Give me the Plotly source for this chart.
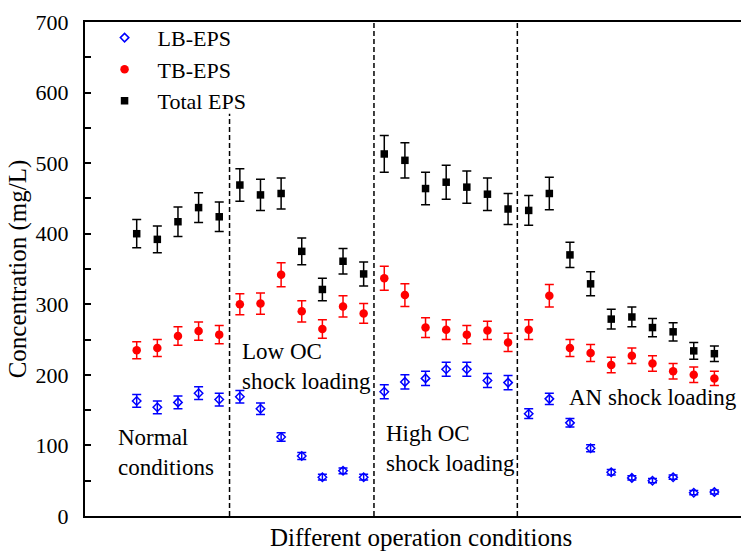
import plotly.graph_objects as go

# sample index along the operating sequence
samples = list(range(1, 30))

lb_eps = [163, 154, 161, 174, 165,
          169, 152, 112, 85, 55, 64, 55,
          176, 190, 195, 208, 208, 192, 189,
          145, 166, 132, 96, 62, 54, 50, 55, 33, 34]
lb_err = [9, 9, 9, 9, 9,
          9, 8, 6, 5, 4, 4, 4,
          10, 10, 10, 10, 10, 10, 10,
          7, 8, 6, 5, 4, 3, 3, 3, 3, 3]

tb_eps = [235, 238, 255, 262, 257,
          300, 301, 342, 290, 265, 297, 287,
          337, 313, 267, 264, 257, 263, 246,
          264, 312, 238, 231, 214, 227, 216, 205, 200, 195]
tb_err = [12, 12, 13, 13, 13,
          15, 15, 17, 15, 13, 15, 14,
          17, 16, 14, 14, 13, 13, 13,
          14, 16, 12, 12, 11, 11, 11, 11, 11, 10]

total_eps = [400, 392, 417, 437, 424,
             469, 455, 457, 375, 321, 361, 343,
             513, 504, 464, 473, 466, 456, 435,
             433, 457, 370, 329, 279, 282, 267, 261, 234, 230]
total_err = [20, 19, 21, 21, 21,
             23, 22, 22, 19, 16, 18, 17,
             26, 25, 23, 24, 23, 23, 22,
             21, 23, 18, 17, 14, 14, 13, 13, 12, 11]

# phase boundaries (sample position) and top of dashed divider (mg/L)
boundaries = [5.5, 12.5, 19.45]
boundary_tops = [570, 700, 700]

phase_labels = ["Normal<br>conditions", "Low OC<br>shock loading",
                "High OC<br>shock loading", "AN shock loading"]
phase_label_x = [-0.02, 6.0, 13.0, 21.88]
phase_label_y = [132, 254, 137.5, 188]

FONT = "Liberation Serif, Times New Roman, serif"

fig = go.Figure()

fig.add_trace(go.Scatter(
    x=samples, y=lb_eps, mode="markers", name="LB-EPS",
    marker=dict(symbol="diamond-open", size=6.5, color="#0000FF",
                line=dict(width=1.5, color="#0000FF")),
    error_y=dict(type="data", array=lb_err, visible=True,
                 color="#0000FF", thickness=1.5, width=4.5),
))
fig.add_trace(go.Scatter(
    x=samples, y=tb_eps, mode="markers", name="TB-EPS",
    marker=dict(symbol="circle", size=8.5, color="#FF0000"),
    error_y=dict(type="data", array=tb_err, visible=True,
                 color="#FF0000", thickness=1.5, width=4.5),
))
fig.add_trace(go.Scatter(
    x=samples, y=total_eps, mode="markers", name="Total EPS",
    marker=dict(symbol="square", size=7.5, color="#000000"),
    error_y=dict(type="data", array=total_err, visible=True,
                 color="#000000", thickness=1.5, width=4.5),
))

for bx, top in zip(boundaries, boundary_tops):
    fig.add_shape(type="line", xref="x", yref="y", x0=bx, x1=bx, y0=0, y1=top,
                  line=dict(color="black", width=1.5, dash="5px,3px"))

for txt, ax, ay in zip(phase_labels, phase_label_x, phase_label_y):
    fig.add_annotation(text=txt, x=ax, y=ay, xref="x", yref="y",
                       xanchor="left", yanchor="top", align="left",
                       showarrow=False, font=dict(family=FONT, size=23, color="black"))

fig.add_annotation(text="Different operation conditions", x=(421 - 85) / 656, y=-0.012,
                   xref="x domain", yref="paper", showarrow=False,
                   xanchor="center", yanchor="top",
                   font=dict(family=FONT, size=25, color="black"))

fig.update_layout(
    width=741, height=553,
    margin=dict(l=85, r=0, t=22, b=37),
    paper_bgcolor="white", plot_bgcolor="white",
    font=dict(family=FONT, size=22, color="black"),
    showlegend=True,
    legend=dict(x=0.010, y=1.0105, xanchor="left", yanchor="top",
                bgcolor="rgba(0,0,0,0)", font=dict(family=FONT, size=22),
                itemwidth=56, tracegroupgap=0),
    xaxis=dict(range=[-1.506, 30.29], showline=True, linecolor="black",
               linewidth=2, mirror=True, showgrid=False, zeroline=False,
               showticklabels=False, ticks=""),
    yaxis=dict(range=[0, 700], showline=True, linecolor="black", linewidth=2,
               showgrid=False, zeroline=False, ticks="inside", ticklen=6,
               tickwidth=1.5, tickcolor="black", dtick=100, tick0=0,
               ticklabelstandoff=10,
               minor=dict(ticks="inside", ticklen=6, tickwidth=1.5,
                          tickcolor="black", dtick=50),
               tickfont=dict(family=FONT, size=22),
               title=dict(text="Concentration (mg/L)", standoff=2,
                          font=dict(family=FONT, size=25))),
)

fig.write_html("out.html")
